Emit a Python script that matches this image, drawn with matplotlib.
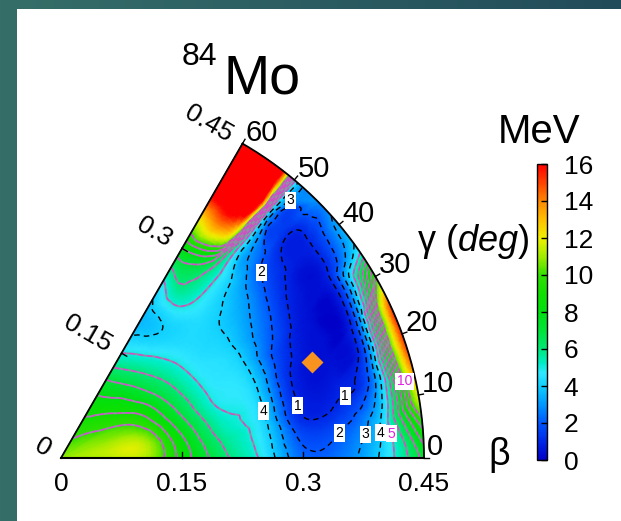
import numpy as np
import matplotlib
matplotlib.use("Agg")
import matplotlib.pyplot as plt
import matplotlib.tri as mtri
from matplotlib.colors import LinearSegmentedColormap, Normalize
from matplotlib.cm import ScalarMappable
from matplotlib.patches import Rectangle

plt.rcParams['font.family'] = ['Liberation Sans', 'DejaVu Sans']
plt.rcParams['mathtext.fontset'] = 'custom'
plt.rcParams['mathtext.rm'] = 'Liberation Sans'
plt.rcParams['mathtext.it'] = 'Liberation Sans:italic'
plt.rcParams['lines.dashed_pattern'] = [4, 3]

# potential energy surface of 84Mo in the beta-gamma plane (MeV)
beta_vals = [0.05, 0.10, 0.15, 0.20, 0.25, 0.30, 0.35, 0.40, 0.45]
gamma_vals = [0, 5, 10, 15, 20, 25, 30, 35, 40, 45, 50, 52.5, 55, 60]  # deg
e_spherical = 10.8
e_b05 = [11.2, 11.3, 11.3, 11.1, 10.9, 10.7, 10.5, 10.2, 10.0, 9.8, 9.6, 9.5, 9.4, 9.3]
e_b10 = [11.3, 11.6, 11.5, 11.0, 10.4, 9.9, 9.4, 8.9, 8.5, 8.2, 7.9, 7.8, 7.7, 7.6]
e_b15 = [8.6, 8.5, 8.2, 7.8, 7.4, 7.1, 6.8, 6.5, 6.2, 5.9, 5.6, 5.45, 5.3, 5.0]
e_b20 = [6.3, 6.0, 5.6, 5.3, 5.0, 4.9, 4.8, 4.7, 4.6, 4.4, 4.1, 3.95, 3.8, 3.6]
e_b25 = [4.8, 4.6, 4.5, 4.45, 4.4, 4.3, 4.2, 4.1, 4.1, 4.4, 5.0, 5.4, 5.6, 4.8]
e_b30 = [2.3, 1.8, 1.1, 1.0, 1.1, 1.5, 2.1, 2.6, 3.1, 3.8, 5.3, 6.5, 7.5, 8.0]
e_b35 = [2.6, 2.1, 1.2, 0.7, 0.4, 0.4, 0.5, 0.8, 1.3, 2.2, 5.3, 12.0, 14.0, 13.0]
e_b40 = [4.3, 4.2, 3.5, 2.7, 2.0, 1.5, 1.0, 0.8, 0.8, 1.2, 5.0, 18.0, 19.0, 19.0]
e_b45 = [7.4, 9.2, 12.0, 14.5, 15.5, 15.0, 10.0, 4.6, 3.4, 2.9, 5.5, 17.0, 19.0, 20.0]
e_rows = [e_b05, e_b10, e_b15, e_b20, e_b25, e_b30, e_b35, e_b40, e_b45]

# ground state minimum (orange diamond)
min_beta = 0.333
min_gamma = 21.0

black_levels = [1, 2, 3, 4]
pink_levels = [5, 6, 7, 8, 9, 10]
cbar_ticks = [0, 2, 4, 6, 8, 10, 12, 14, 16]
beta_ticks = [0, 0.15, 0.3, 0.45]
gamma_ticks = [0, 10, 20, 30, 40, 50, 60]

# pixel layout of the reference: origin and scale of the beta axis
W, H = 621, 521
X0, Y0, S = 61.0, 458.0, 806.7


def px2d(x, y):
    return (x - X0) / S, (Y0 - y) / S


def pol(b, g):
    return b * np.cos(np.radians(g)), b * np.sin(np.radians(g))


cmap = LinearSegmentedColormap.from_list('pes', [
    (0 / 16, '#0000c8'), (1 / 16, '#0028e8'), (2 / 16, '#0058ff'),
    (3 / 16, '#0098ff'), (4 / 16, '#10d0ff'), (4.7 / 16, '#30e8ff'),
    (5.2 / 16, '#00eec8'), (6 / 16, '#00e878'), (7 / 16, '#00e438'),
    (8 / 16, '#00e010'), (9 / 16, '#10e000'), (10 / 16, '#30e000'),
    (11 / 16, '#a0ec00'), (12 / 16, '#f0f000'), (13 / 16, '#ffc000'),
    (14 / 16, '#ff8800'), (15 / 16, '#ff4400'), (16 / 16, '#ff0000')])
norm = Normalize(0, 16)

fig = plt.figure(figsize=(W / 100, H / 100), dpi=100)

# slide background
bgax = fig.add_axes([0, 0, 1, 1], zorder=-10)
grad = np.linspace(0, 1, 256).reshape(1, -1)
bgax.imshow(grad, aspect='auto', extent=[0, 1, 0, 1],
            cmap=LinearSegmentedColormap.from_list('bg', ['#356e69', '#224b5a']))
bgax.axis('off')
fig.patches.append(Rectangle((17 / W, 0), 1, 1 - 9 / H, transform=fig.transFigure,
                             facecolor='white', edgecolor='none', zorder=-5))

ax = fig.add_axes([0, 0, 1, 1])
ax.set_xlim(-X0 / S, (W - X0) / S)
ax.set_ylim(-(H - Y0) / S, Y0 / S)
ax.axis('off')

# build the surface
xs, ys, zs = [0.0], [0.0], [e_spherical]
for b, row in zip(beta_vals, e_rows):
    for g, e in zip(gamma_vals, row):
        x, y = pol(b, g)
        xs.append(x)
        ys.append(y)
        zs.append(e)
zs = np.array(zs)
tri = mtri.Triangulation(np.array(xs), np.array(ys))
interp = mtri.CubicTriInterpolator(tri, zs, kind='geom')
tri_f, z_f = mtri.UniformTriRefiner(tri).refine_field(zs, triinterpolator=interp, subdiv=4)

ax.tripcolor(tri_f, z_f, shading='gouraud', cmap=cmap, norm=norm)
cs_k = ax.tricontour(tri_f, z_f, levels=black_levels, colors='k',
                     linewidths=1.0, linestyles='dashed')
ax.tricontour(tri_f, z_f, levels=pink_levels, colors='#978aa8', linewidths=1.4)
cs_p = ax.tricontour(tri_f, z_f, levels=pink_levels, colors='#d848cc',
                     linewidths=0.9, linestyles='dashed')

black_lab = [(300, 405), (345, 392), (263, 272), (339, 433),
             (290, 200), (359, 433), (268, 410), (376, 433)]
pink_lab = [(393, 433), (405, 381)]
t1 = cs_k.clabel(fontsize=10, inline=False, fmt='%d',
                 manual=[px2d(*p) for p in black_lab])
t2 = cs_p.clabel(fontsize=10, inline=False, fmt='%d', colors='#e020e0',
                 manual=[px2d(*p) for p in pink_lab])
for t in list(t1) + list(t2):
    t.set_rotation(0)
    t.set_bbox(dict(facecolor='white', edgecolor='none', pad=1.2))

mx, my = pol(min_beta, min_gamma)
ax.plot(mx, my, marker='D', ms=11.5, color='#f7931e', mec='none', zorder=5)

# sector frame
th = np.linspace(0, 60, 200)
ax.plot(*pol(0.45, th), color='k', lw=1.3)
ax.plot([0, 0.45], [0, 0], color='k', lw=1.5)
ax.plot(*pol(np.array([0, 0.45]), 60), color='k', lw=1.3)

tk = 6 / S
for b in beta_ticks[1:-1]:
    ax.plot([b, b], [0, tk], color='k', lw=1)
    ex, ey = pol(b, 60)
    ax.plot([ex, ex + tk * np.sin(np.radians(60))],
            [ey, ey - tk * np.cos(np.radians(60))], color='k', lw=1)
for b in beta_ticks:
    ax.text(b, -26 / S, f'{b:g}', fontsize=19, ha='center', va='center')

off = 14 / S
for b in beta_ticks:
    ex, ey = pol(b, 60)
    ax.text(ex - off * np.sin(np.radians(60)), ey + off * np.cos(np.radians(60)),
            f'{b:g}', fontsize=19, rotation=-30, rotation_mode='anchor',
            ha='right', va='center')

for g in gamma_ticks:
    x1, y1 = pol(0.45, g)
    x2, y2 = pol(0.45 + 5 / S, g)
    ax.plot([x1, x2], [y1, y2], color='k', lw=1)
    ax.text(x1 + 3 / S, y1 + 3 / S, f'{g}', fontsize=21, ha='left', va='baseline')

fig.text(182 / W, 1 - 65 / H, '84', fontsize=23, ha='left', va='baseline')
fig.text(223 / W, 1 - 93 / H, 'Mo', fontsize=40, ha='left', va='baseline')
fig.text(498 / W, 1 - 143 / H, 'MeV', fontsize=29, ha='left', va='baseline')
fig.text(417 / W, 1 - 251 / H, r'γ ($\mathit{deg}$)', fontsize=26, ha='left', va='baseline')
fig.text(499 / W, 1 - 455 / H, 'β', fontsize=27, ha='center', va='center')

# colour bar
cax = fig.add_axes([537 / W, 1 - 460 / H, 10 / W, 296 / H])
cb = fig.colorbar(ScalarMappable(norm=norm, cmap=cmap), cax=cax, ticks=cbar_ticks)
cb.outline.set_linewidth(1)
cb.ax.tick_params(direction='in', length=4, width=1, labelsize=19, pad=12)

fig.savefig('out.png', dpi=100)
